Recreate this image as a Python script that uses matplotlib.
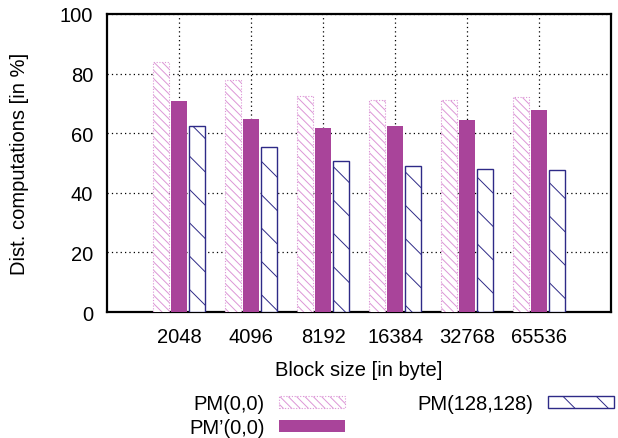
import numpy as np
import matplotlib
matplotlib.use("Agg")
import matplotlib.pyplot as plt

plt.rcParams['font.family'] = ['Liberation Sans', 'DejaVu Sans']
plt.rcParams['hatch.linewidth'] = 0.7

# Block sizes and distance computations (percent)
block_sizes = ['2048', '4096', '8192', '16384', '32768', '65536']
pm_00 = [83.9, 77.9, 72.4, 71.1, 71.1, 72.0]
pm_prime_00 = [70.8, 64.8, 61.7, 62.4, 64.4, 67.8]
pm_128 = [62.3, 55.3, 50.8, 48.9, 47.9, 47.5]

x = np.arange(1, len(block_sizes) + 1)
w = 0.23
off = 0.25
fs = 14.5

fig = plt.figure(figsize=(6.18, 4.39), dpi=100)
ax = fig.add_axes([0.173, 0.287, 0.816, 0.679])

b1 = ax.bar(x - off, pm_00, w, facecolor='white', edgecolor='#dc96d6',
            hatch='\\\\\\\\', linestyle=(0, (1, 1.5)), linewidth=0.8,
            label='PM(0,0)', zorder=3)
b2 = ax.bar(x, pm_prime_00, w, color='#a9449a', label="PM\u2019(0,0)", zorder=3)
b3 = ax.bar(x + off, pm_128, w, facecolor='white', edgecolor='#2e2a87',
            hatch='\\', linewidth=1.0, label='PM(128,128)', zorder=3)

ax.set_xlim(0, 7)
ax.set_ylim(0, 100)
ax.set_xticks(x)
ax.set_xticklabels(block_sizes)
ax.set_yticks([0, 20, 40, 60, 80, 100])
ax.tick_params(axis='both', length=0, labelsize=fs)
ax.tick_params(axis='y', pad=10)
ax.tick_params(axis='x', pad=11)

ax.grid(True, color='black', linestyle=(0, (1, 2.5)), linewidth=0.9, zorder=0)
ax.set_axisbelow(True)
for s in ax.spines.values():
    s.set_linewidth(1.6)

ax.set_xlabel('Block size [in byte]', fontsize=fs, labelpad=10)
ax.set_ylabel('Dist. computations [in %]', fontsize=fs, labelpad=22)

fig.legend(handles=[b1, b2, b3], loc='upper left',
           bbox_to_anchor=(189 / 618, 1 - 395 / 439), ncol=2,
           markerfirst=False, frameon=False, fontsize=fs,
           handlelength=3.3, handleheight=0.55, handletextpad=0.7,
           columnspacing=3.6, labelspacing=0.25, borderpad=0,
           borderaxespad=0)

fig.savefig('out.png', dpi=100)
